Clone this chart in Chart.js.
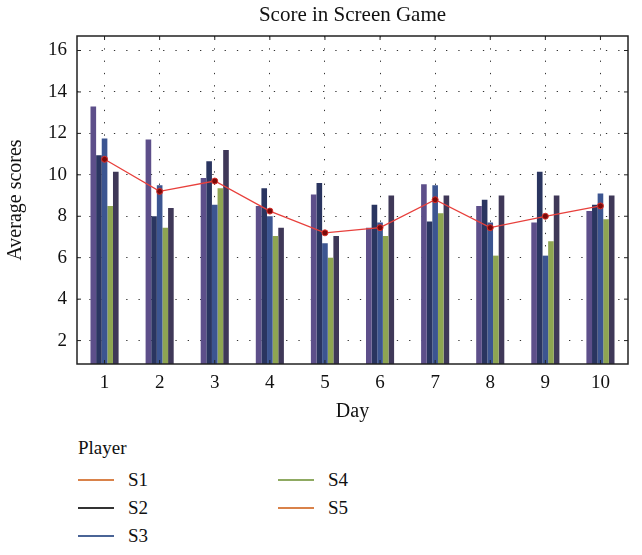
<!DOCTYPE html>
<html>
<head>
<meta charset="utf-8">
<script src="https://cdn.jsdelivr.net/npm/chart.js@4.4.0/dist/chart.umd.min.js"></script>
<style>
  body { margin: 0; background: #fff; font-family: "Liberation Serif", serif; }
  #wrap { position: relative; width: 642px; height: 555px; }
  #box { position: absolute; left: 0; top: 0; width: 642px; height: 428px; }
  #legend { position: absolute; left: 78px; top: 434px; font-size: 19px; color: #111; }
  .ltitle { height: 28px; line-height: 28px; }
  .col { position: absolute; top: 32px; }
  .item { height: 28px; line-height: 28px; white-space: nowrap; display: flex; align-items: center; }
  .sw { display: block; width: 36px; height: 2px; margin-right: 14px; }
</style>
</head>
<body>
<div id="wrap">
  <div id="box"><canvas id="line-chart"></canvas></div>
  <div id="legend">
    <div class="ltitle">Player</div>
    <div class="col" style="left:0">
      <div class="item"><span class="sw" style="background:#d9824a"></span>S1</div>
      <div class="item"><span class="sw" style="background:#333"></span>S2</div>
      <div class="item"><span class="sw" style="background:#4a6496"></span>S3</div>
    </div>
    <div class="col" style="left:200px">
      <div class="item"><span class="sw" style="background:#8faa62"></span>S4</div>
      <div class="item"><span class="sw" style="background:#d9824a"></span>S5</div>
    </div>
  </div>
</div>
<script>
// 数据
const days = ['1', '2', '3', '4', '5', '6', '7', '8', '9', '10'];
const s1 = [13.3, 11.7, 9.85, 8.5, 9.05, 7.45, 9.55, 8.5, 7.7, 8.25];
const s2 = [10.95, 8.0, 10.65, 9.35, 9.6, 8.55, 7.75, 8.8, 10.15, 8.55];
const s3 = [11.75, 9.5, 8.55, 8.0, 6.7, 7.7, 9.5, 7.7, 6.1, 9.1];
const s4 = [8.5, 7.45, 9.35, 7.05, 6.0, 7.05, 8.15, 6.1, 6.8, 7.85];
const s5 = [10.15, 8.4, 11.2, 7.45, 7.05, 9.0, 9.0, 9.0, 9.0, 9.0];
const avgLine = [10.75, 9.2, 9.7, 8.25, 7.2, 7.45, 8.8, 7.45, 8.0, 8.5];
const yTicks = [2, 4, 6, 8, 10, 12, 14, 16];
const chartTitle = 'Score in Screen Game';

// 外框、刻度和标题插件
const frame = {
    id: 'frame',
    afterDraw(chart) {
        const a = chart.chartArea, c = chart.ctx;
        const xs = chart.scales.x, ys = chart.scales.y;
        c.save();
        c.strokeStyle = '#222';
        c.lineWidth = 1;
        c.beginPath();
        days.forEach((d, i) => {
            const px = xs.getPixelForValue(i);
            c.moveTo(px, a.top); c.lineTo(px, a.top + 4);
            c.moveTo(px, a.bottom); c.lineTo(px, a.bottom - 4);
        });
        yTicks.forEach(v => {
            const py = ys.getPixelForValue(v);
            c.moveTo(a.left, py); c.lineTo(a.left + 4, py);
            c.moveTo(a.right, py); c.lineTo(a.right - 4, py);
        });
        c.stroke();
        c.lineWidth = 1.5;
        c.strokeRect(a.left, a.top, a.right - a.left, a.bottom - a.top);
        // 标题居中于绘图区
        c.fillStyle = '#111';
        c.font = '21px "Liberation Serif"';
        c.textAlign = 'center';
        c.textBaseline = 'middle';
        c.fillText(chartTitle, (a.left + a.right) / 2, 15);
        c.restore();
    }
};

function bar(label, data, color) {
    return {
        type: 'bar', label: label, data: data,
        backgroundColor: color, borderWidth: 0,
        categoryPercentage: 0.51, barPercentage: 1, order: 1
    };
}

const ctx = document.getElementById('line-chart').getContext('2d');
new Chart(ctx, {
    type: 'bar',
    data: {
        labels: days,
        datasets: [
            bar('S1', s1, '#5d4f8a'),
            bar('S2', s2, '#2a3560'),
            bar('S3', s3, '#3c5591'),
            bar('S4', s4, '#8ea552'),
            bar('S5', s5, '#3f3858'),
            {
                type: 'line', label: 'Mean', data: avgLine, order: 0,
                borderColor: '#e8403c', borderWidth: 1.3,
                pointBackgroundColor: '#7a0a0a', pointBorderColor: '#d8302c',
                pointRadius: 3, pointBorderWidth: 1
            }
        ]
    },
    plugins: [frame],
    options: {
        responsive: true,
        maintainAspectRatio: false,
        animation: false,
        layout: { padding: { left: 0, right: 14, top: 36, bottom: 0 } },
        plugins: {
            legend: { display: false },
            tooltip: { enabled: false },
            title: { display: false }
        },
        scales: {
            x: {
                offset: true,
                grid: { offset: false, color: '#333', lineWidth: 1, drawTicks: false },
                border: { display: false, dash: [1.3, 11] },
                ticks: { color: '#111', font: { family: 'Liberation Serif', size: 19 }, padding: 8 },
                title: { display: true, text: 'Day', color: '#111', font: { family: 'Liberation Serif', size: 20 }, padding: { top: 6 } },
                afterFit(s) { s.height = 64; }
            },
            y: {
                min: 0.87, max: 16.7,
                afterBuildTicks(s) { s.ticks = yTicks.map(v => ({ value: v })); },
                grid: { color: '#333', lineWidth: 1, drawTicks: false },
                border: { display: false, dash: [1.3, 11] },
                ticks: { color: '#111', font: { family: 'Liberation Serif', size: 19 }, padding: 10 },
                title: { display: true, text: 'Average scores', color: '#111', font: { family: 'Liberation Serif', size: 20 }, padding: { bottom: 2 } },
                afterFit(s) { s.width = 77; }
            }
        }
    }
});
</script>
</body>
</html>
